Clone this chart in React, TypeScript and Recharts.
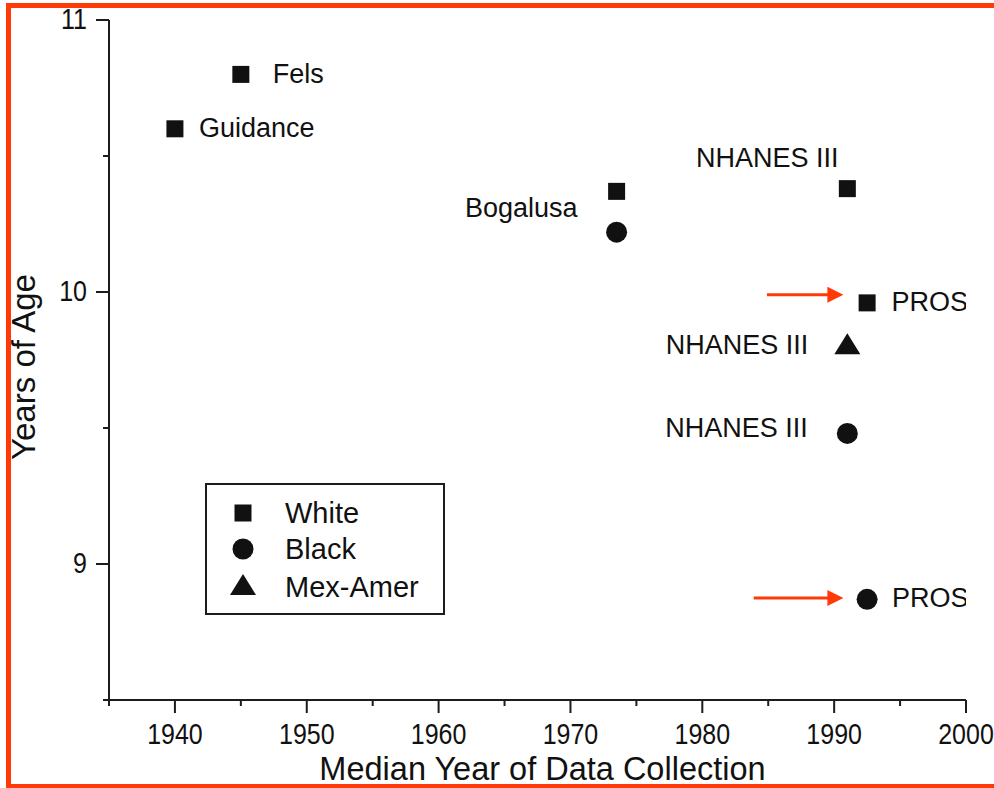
import React from 'react';
import { ScatterChart, Scatter, XAxis, YAxis, Legend, ReferenceLine } from 'recharts';

const FONT = '"Liberation Sans", Arial, Helvetica, sans-serif';
const INK = '#111111';
const AXIS = '#1c1c1c';
const RED = '#ff3a08';

// ---- axis ticks ----
const xTicks = [1935, 1940, 1945, 1950, 1955, 1960, 1965, 1970, 1975, 1980, 1985, 1990, 1995, 2000];
const xTickLabels = [1940, 1950, 1960, 1970, 1980, 1990, 2000];
const yTicks = [8.5, 9, 9.5, 10, 10.5, 11];
const yTickLabels = [9, 10, 11];

const xTitle = 'Median Year of Data Collection';
const yTitle = 'Years of Age';

// ---- series ----
const seriesNames = ['White', 'Black', 'Mex-Amer'];

const whiteYears = [1940, 1945, 1973.5, 1991, 1992.5];
const whiteAges = [10.6, 10.8, 10.37, 10.38, 9.96];
const whiteStudies = ['Guidance', 'Fels', 'Bogalusa', 'NHANES III', 'PROS'];

const blackYears = [1973.5, 1991, 1992.5];
const blackAges = [10.22, 9.48, 8.87];
const blackStudies = ['', 'NHANES III', 'PROS'];

const mexYears = [1991];
const mexAges = [9.81];
const mexStudies = ['NHANES III'];

// ---- annotation arrows (data space) ----
const arrowFromYears = [1984.9, 1983.9];
const arrowToYears = [1990.7, 1990.7];
const arrowAges = [9.99, 8.875];

// ---- label placement (style, relative to marker) ----
type Place = { dx: number; dy: number; anchor: 'start' | 'middle' | 'end' } | null;
const whitePlace: Place[] = [
  { dx: 24, dy: -1, anchor: 'start' },
  { dx: 32, dy: 0, anchor: 'start' },
  { dx: -39, dy: 16.5, anchor: 'end' },
  { dx: -80, dy: -31, anchor: 'middle' },
  { dx: 24.5, dy: -1, anchor: 'start' },
];
const blackPlace: Place[] = [
  null,
  { dx: -39.5, dy: -5.5, anchor: 'end' },
  { dx: 25, dy: -1.5, anchor: 'start' },
];
const mexPlace: Place[] = [{ dx: -39, dy: 1.5, anchor: 'end' }];

const build = (xs: number[], ys: number[], names: string[]) =>
  xs.map((x, i) => ({ x, y: ys[i], study: names[i], i }));

const whiteData = build(whiteYears, whiteAges, whiteStudies);
const blackData = build(blackYears, blackAges, blackStudies);
const mexData = build(mexYears, mexAges, mexStudies);

type Kind = 'square' | 'circle' | 'triangle';

const Marker = ({ kind, cx, cy }: { kind: Kind; cx: number; cy: number }) => {
  if (kind === 'square') return <rect x={cx - 8.5} y={cy - 8.5} width={17} height={17} fill={INK} />;
  if (kind === 'circle') return <circle cx={cx} cy={cy} r={10.5} fill={INK} />;
  return (
    <path d={`M${cx},${cy - 10.5} L${cx + 13},${cy + 10.5} L${cx - 13},${cy + 10.5} Z`} fill={INK} />
  );
};

const makeShape = (kind: Kind, places: Place[]) => (props: any) => {
  const { cx, cy, payload } = props;
  if (cx == null || cy == null) return <g />;
  const p = places[payload.i];
  return (
    <g>
      <Marker kind={kind} cx={cx} cy={cy} />
      {p && payload.study ? (
        <text
          x={cx + p.dx}
          y={cy + p.dy}
          textAnchor={p.anchor}
          dominantBaseline="central"
          fontFamily={FONT}
          fontSize={27}
          fill={INK}
        >
          {payload.study}
        </text>
      ) : null}
    </g>
  );
};

// tick text, slightly tall like the reference lettering
const TickText = ({ x, y, anchor, children }: any) => (
  <text
    transform={`translate(${x}, ${y}) scale(1, 1.18)`}
    x={0}
    y={0}
    textAnchor={anchor}
    dominantBaseline="central"
    fontFamily={FONT}
    fontSize={25}
    fill={INK}
  >
    {children}
  </text>
);

const XTick = (props: any) => {
  const { x, y, payload } = props;
  const major = xTickLabels.includes(payload.value);
  return (
    <g>
      <line x1={x} x2={x} y1={y} y2={y + (major ? 13 : 6)} stroke={AXIS} strokeWidth={2} />
      {major ? (
        <TickText x={x} y={y + 33.5} anchor="middle">
          {payload.value}
        </TickText>
      ) : null}
    </g>
  );
};

const YTick = (props: any) => {
  const { x, y, payload } = props;
  const major = yTickLabels.includes(payload.value);
  return (
    <g>
      <line x1={x} x2={x - (major ? 13 : 6)} y1={y} y2={y} stroke={AXIS} strokeWidth={2} />
      {major ? (
        <TickText x={x - 22} y={y - 1} anchor="end">
          {payload.value}
        </TickText>
      ) : null}
    </g>
  );
};

const YTitle = (props: any) => {
  const vb = props.viewBox;
  const cx = vb.x + 23;
  const cy = vb.y + vb.height / 2 + 7;
  return (
    <text
      x={cx}
      y={cy}
      transform={`rotate(-90, ${cx}, ${cy})`}
      textAnchor="middle"
      dominantBaseline="central"
      fontFamily={FONT}
      fontSize={33}
      fill={INK}
    >
      {yTitle}
    </text>
  );
};

const XTitle = (props: any) => {
  const vb = props.viewBox;
  return (
    <text
      x={vb.x + vb.width / 2 + 5}
      y={vb.y + 80}
      textAnchor="middle"
      fontFamily={FONT}
      fontSize={32.5}
      fill={INK}
    >
      {xTitle}
    </text>
  );
};

const kinds: Kind[] = ['square', 'circle', 'triangle'];
const legendMarkerY = [30, 66, 101.5];
const legendTextY = [30, 66, 104];

const LegendBox = () => (
  <svg width={240} height={132} style={{ display: 'block' }}>
    <rect x={1} y={1} width={238} height={130} fill="#fff" stroke={AXIS} strokeWidth={2} />
    {seriesNames.map((n, i) => (
      <g key={n}>
        <Marker kind={kinds[i]} cx={38} cy={legendMarkerY[i]} />
        <text x={80} y={legendTextY[i]} dominantBaseline="central" fontFamily={FONT} fontSize={29} fill={INK}>
          {n}
        </text>
      </g>
    ))}
  </svg>
);

const ArrowShape = (p: any) => {
  const { x1, y1, x2, y2 } = p;
  if (x1 == null) return <g />;
  const head = 16;
  const half = 8;
  return (
    <g>
      <line x1={x1} y1={y1} x2={x2 - head + 1} y2={y2} stroke={RED} strokeWidth={3} />
      <polygon points={`${x2},${y2} ${x2 - head},${y2 - half} ${x2 - head},${y2 + half}`} fill={RED} />
    </g>
  );
};

export default function App() {
  return (
    <div
      style={{
        position: 'absolute',
        left: 0,
        top: 0,
        width: 994,
        height: 788,
        overflow: 'hidden',
        background: '#fff',
      }}
    >
      <ScatterChart
        width={994}
        height={788}
        margin={{ top: 20, right: 28, bottom: 28, left: 0 }}
        style={{ fontFamily: FONT }}
      >
        <XAxis
          type="number"
          dataKey="x"
          domain={[1935, 2000]}
          ticks={xTicks}
          interval={0}
          height={60}
          tickSize={0}
          tickMargin={0}
          tickLine={false}
          tick={<XTick />}
          axisLine={{ stroke: AXIS, strokeWidth: 2 }}
          label={{ content: <XTitle /> }}
          allowDataOverflow
        />
        <YAxis
          type="number"
          dataKey="y"
          domain={[8.5, 11]}
          ticks={yTicks}
          interval={0}
          width={109}
          tickSize={0}
          tickMargin={0}
          tickLine={false}
          tick={<YTick />}
          axisLine={{ stroke: AXIS, strokeWidth: 2 }}
          label={{ content: <YTitle /> }}
          allowDataOverflow
        />
        {arrowAges.map((a, i) => (
          <ReferenceLine
            key={i}
            segment={[
              { x: arrowFromYears[i], y: a },
              { x: arrowToYears[i], y: a },
            ]}
            shape={<ArrowShape />}
            ifOverflow="visible"
          />
        ))}
        <Scatter name={seriesNames[0]} data={whiteData} shape={makeShape('square', whitePlace)} isAnimationActive={false} />
        <Scatter name={seriesNames[1]} data={blackData} shape={makeShape('circle', blackPlace)} isAnimationActive={false} />
        <Scatter name={seriesNames[2]} data={mexData} shape={makeShape('triangle', mexPlace)} isAnimationActive={false} />
        <Legend
          layout="vertical"
          align="center"
          verticalAlign="middle"
          content={<LegendBox />}
          wrapperStyle={{ left: 205, top: 483, width: 240, height: 132 }}
        />
      </ScatterChart>
      <div
        style={{
          position: 'absolute',
          left: 6,
          top: 3,
          width: 1000,
          height: 786,
          border: `5px solid ${RED}`,
          boxSizing: 'border-box',
          pointerEvents: 'none',
        }}
      />
    </div>
  );
}
